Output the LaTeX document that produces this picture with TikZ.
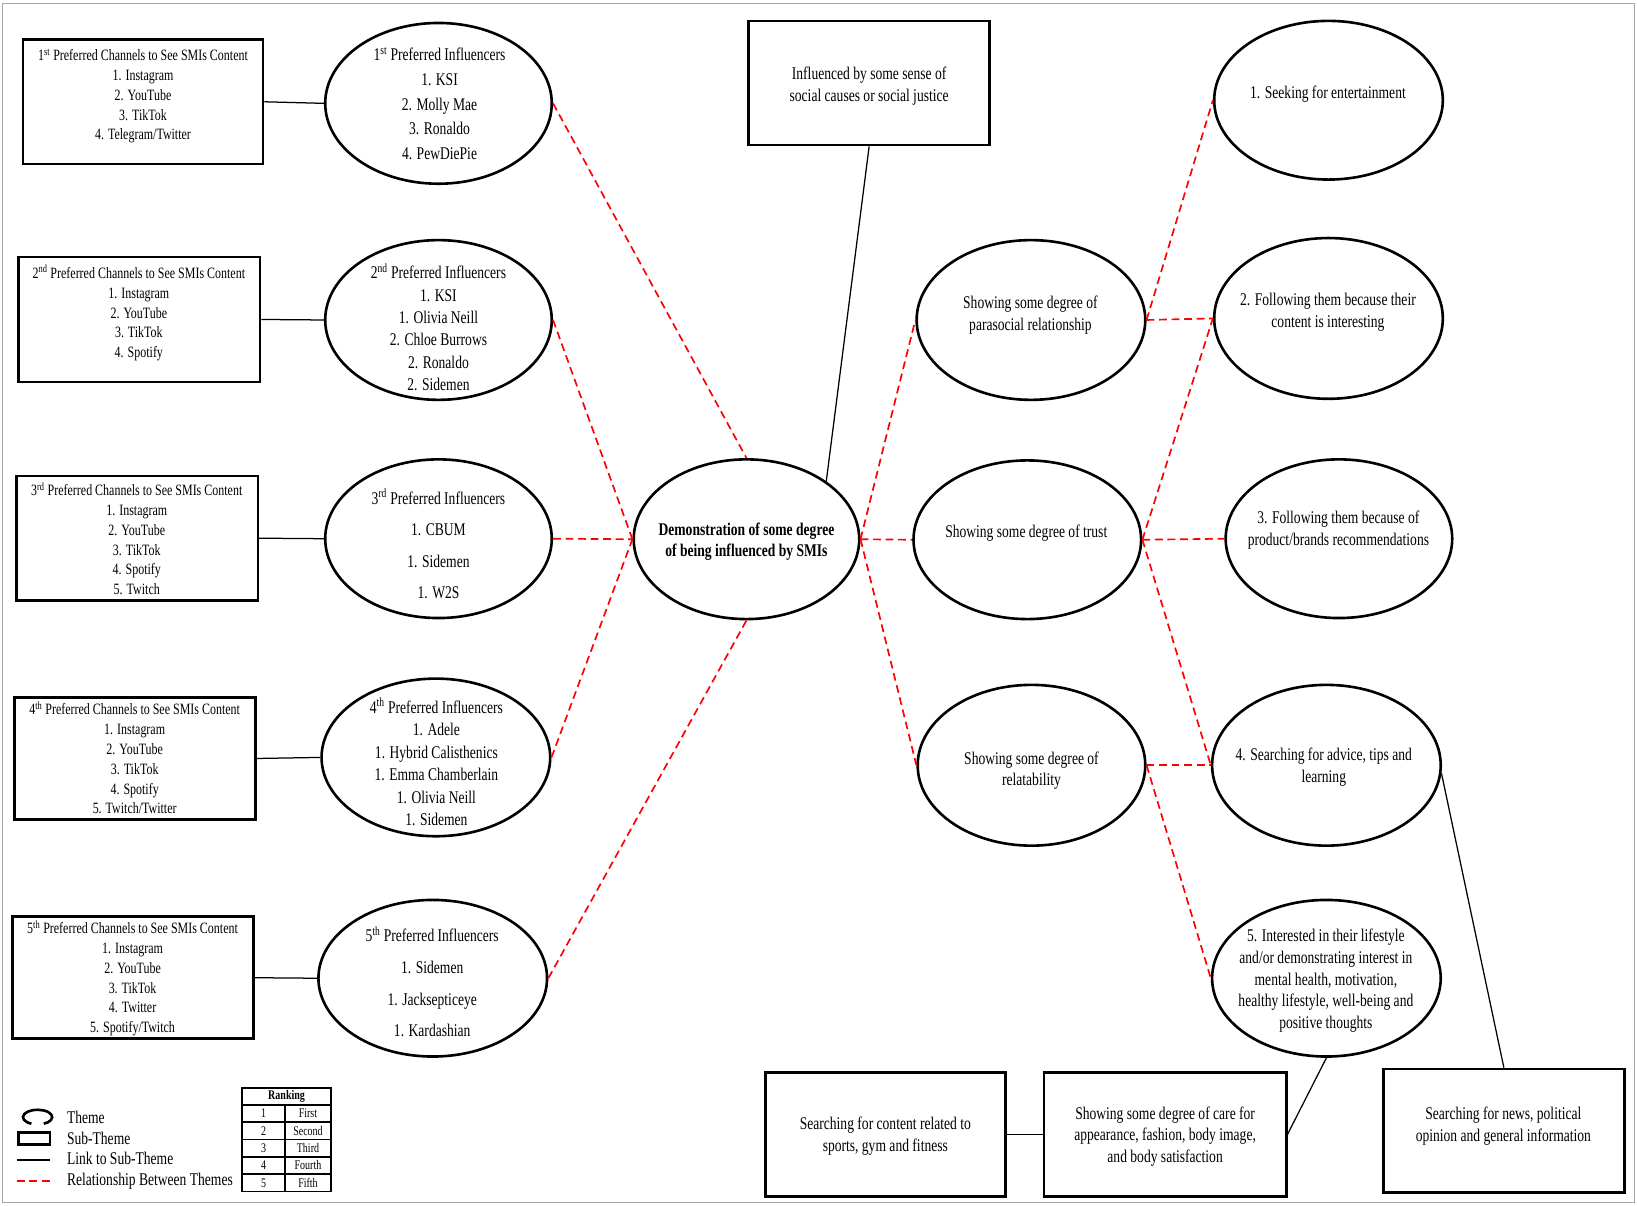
\documentclass[tikz,border=0pt]{standalone}
\usepackage{fontspec}
\setmainfont{Liberation Serif}[FakeStretch=0.76]
\usetikzlibrary{shapes.geometric}
\begin{document}
\begin{tikzpicture}[x=1pt,y=-1pt,
  theme/.style={ellipse, draw, line width=2.5pt, inner sep=0pt},
  subbox/.style={rectangle, draw, line width=2.5pt, inner sep=0pt},
  link/.style={line width=1.2pt},
  rel/.style={red, line width=1.6pt, dash pattern=on 7.5pt off 4.5pt},
  tx/.style={align=center, inner sep=0pt, font=\fontsize{17.1}{#1}\selectfont},
  tx/.default=20.7,
  btx/.style={align=center, inner sep=0pt, font=\fontsize{15.1}{19}\selectfont},
  cell/.style={rectangle, draw, line width=1.5pt, inner sep=0pt, font=\fontsize{12.6}{12.6}\selectfont},
  legtx/.style={anchor=west, inner sep=0pt, font=\fontsize{17.1}{18}\selectfont}
]
\useasboundingbox (0,0) rectangle (1568,1155);
\draw[gray!70, line width=1pt] (2,3) rectangle (1565.5,1152);

% left sub-theme boxes
\node[subbox, minimum width=230pt, minimum height=119pt] (b1) at (137,97.5) {};
\node[btx] (b1t) at (137,92) {1\textsuperscript{st} Preferred Channels to See SMIs Content\\1. Instagram\\2. YouTube\\3. TikTok\\4. Telegram/Twitter};
\node[subbox, minimum width=231pt, minimum height=120pt] (b2) at (133.5,306) {};
\node[btx] (b2t) at (133,300) {2\textsuperscript{nd} Preferred Channels to See SMIs Content\\1. Instagram\\2. YouTube\\3. TikTok\\4. Spotify};
\node[subbox, minimum width=231pt, minimum height=119pt] (b3) at (131.5,515.5) {};
\node[btx] (b3t) at (131,516) {3\textsuperscript{rd} Preferred Channels to See SMIs Content\\1. Instagram\\2. YouTube\\3. TikTok\\4. Spotify\\5. Twitch};
\node[subbox, minimum width=231pt, minimum height=117pt] (b4) at (129.5,726.5) {};
\node[btx] (b4t) at (129,726) {4\textsuperscript{th} Preferred Channels to See SMIs Content\\1. Instagram\\2. YouTube\\3. TikTok\\4. Spotify\\5. Twitch/Twitter};
\node[subbox, minimum width=231pt, minimum height=117pt] (b5) at (127.5,936.5) {};
\node[btx] (b5t) at (127,937) {5\textsuperscript{th} Preferred Channels to See SMIs Content\\1. Instagram\\2. YouTube\\3. TikTok\\4. Twitter\\5. Spotify/Twitch};

% influencer themes
\node[theme, minimum width=217pt, minimum height=154pt] (e1) at (420,99) {};
\node[tx=23.5] (e1t) at (421,99) {1\textsuperscript{st} Preferred Influencers\\1. KSI\\2. Molly Mae\\3. Ronaldo\\4. PewDiePie};
\node[theme, minimum width=217pt, minimum height=153pt] (e2) at (420,306.5) {};
\node[tx=21.4] (e2t) at (420,313.5) {2\textsuperscript{nd} Preferred Influencers\\1. KSI\\1. Olivia Neill\\2. Chloe Burrows\\2. Ronaldo\\2. Sidemen};
\node[theme, minimum width=217pt, minimum height=152pt] (e3) at (420,516) {};
\node[tx=30] (e3t) at (420,521) {3\textsuperscript{rd} Preferred Influencers\\1. CBUM\\1. Sidemen\\1. W2S};
\node[theme, minimum width=219pt, minimum height=151pt] (e4) at (417.5,725.5) {};
\node[tx=21.6] (e4t) at (418,730) {4\textsuperscript{th} Preferred Influencers\\1. Adele\\1. Hybrid Calisthenics\\1. Emma Chamberlain\\1. Olivia Neill\\1. Sidemen};
\node[theme, minimum width=219pt, minimum height=150pt] (e5) at (414.5,937) {};
\node[tx=30.3] (e5t) at (414,940.5) {5\textsuperscript{th} Preferred Influencers\\1. Sidemen\\1. Jacksepticeye\\1. Kardashian};

% central theme
\node[theme, minimum width=216pt, minimum height=153pt] (c) at (715,516.5) {};
\node[tx=20, font=\fontsize{17.1}{20}\selectfont\bfseries] (ct) at (715,519) {Demonstration of some degree\\of being influenced by SMIs};

% top box
\node[subbox, minimum width=231pt, minimum height=119pt] (t) at (832.5,79.5) {};
\node[tx=21] (tt) at (832.5,82.5) {Influenced by some sense of\\social causes or social justice};

% middle themes
\node[theme, minimum width=219pt, minimum height=153pt] (p) at (987.5,306.5) {};
\node[tx=21] (pt) at (987,301.5) {Showing some degree of\\parasocial relationship};
\node[theme, minimum width=218pt, minimum height=152pt] (tr) at (984,517) {};
\node[tx] (trt) at (983,511) {Showing some degree of trust};
\node[theme, minimum width=218pt, minimum height=154pt] (r) at (988,733) {};
\node[tx=20] (rt) at (988,738) {Showing some degree of\\relatability};

% right themes
\node[theme, minimum width=219pt, minimum height=152pt] (r1) at (1272.5,96) {};
\node[tx] (r1t) at (1272,90) {1. Seeking for entertainment};
\node[theme, minimum width=219pt, minimum height=154pt] (r2) at (1272.5,305) {};
\node[tx=21] (r2t) at (1272,299.5) {2. Following them because their\\content is interesting};
\node[theme, minimum width=217pt, minimum height=152pt] (r3) at (1282.5,516) {};
\node[tx=21] (r3t) at (1282,507.5) {3. Following them because of\\product/brands recommendations};
\node[theme, minimum width=219pt, minimum height=154pt] (r4) at (1270.5,733) {};
\node[tx=21] (r4t) at (1268,734.5) {4. Searching for advice, tips and\\learning};
\node[theme, minimum width=219pt, minimum height=150pt] (r5) at (1270.5,937) {};
\node[tx=20.7] (r5t) at (1270,939.5) {5. Interested in their lifestyle\\and/or demonstrating interest in\\mental health, motivation,\\healthy lifestyle, well-being and\\positive thoughts};

% bottom boxes
\node[subbox, minimum width=230pt, minimum height=119pt] (bb1) at (848,1086.5) {};
\node[tx=21] (bb1t) at (848,1088.5) {Searching for content related to\\sports, gym and fitness};
\node[subbox, minimum width=232pt, minimum height=119pt] (bb2) at (1116,1086.5) {};
\node[tx=20.5] (bb2t) at (1116,1088.5) {Showing some degree of care for\\appearance, fashion, body image,\\and body satisfaction};
\node[subbox, minimum width=231pt, minimum height=118pt] (bb3) at (1440.5,1083) {};
\node[tx=21] (bb3t) at (1440,1078.5) {Searching for news, political\\opinion and general information};

% links to sub-themes
\draw[link] (b1.east) -- (e1.west);
\draw[link] (b2.east) -- (e2.west);
\draw[link] (b3.east) -- (e3.west);
\draw[link] (b4.east) -- (e4.west);
\draw[link] (b5.east) -- (e5.west);
\draw[link] (t.south) -- (c.36);
\draw[link] (r5.south) -- (bb2.east);
\draw[link] (r4.-4) -- (bb3.north);
\draw[link] (bb1.east) -- (bb2.west);

% relationships between themes
\draw[rel] (e1.east) -- (c.north);
\draw[rel] (e2.east) -- (c.west);
\draw[rel] (e3.east) -- (c.west);
\draw[rel] (e4.east) -- (c.west);
\draw[rel] (e5.east) -- (c.south);
\draw[rel] (c.east) -- (p.west);
\draw[rel] (c.east) -- (tr.west);
\draw[rel] (c.east) -- (r.west);
\draw[rel] (p.east) -- (r1.west);
\draw[rel] (p.east) -- (r2.west);
\draw[rel] (tr.east) -- (r2.west);
\draw[rel] (tr.east) -- (r3.west);
\draw[rel] (tr.east) -- (r4.west);
\draw[rel] (r.east) -- (r4.west);
\draw[rel] (r.east) -- (r5.west);

% legend
\draw[line width=2.5pt] (30.08,1076.34) arc[start angle=115, end angle=425, x radius=14, y radius=7];
\draw[line width=2.5pt] (18,1085) rectangle (48,1096);
\draw[link] (16,1111) -- (48,1111);
\draw[rel] (16,1131) -- (48,1131);
\node[legtx] (lg1) at (64,1070) {Theme};
\node[legtx] (lg2) at (64,1090) {Sub-Theme};
\node[legtx] (lg3) at (64,1110) {Link to Sub-Theme};
\node[legtx] (lg4) at (64,1131) {Relationship Between Themes};

% ranking table
\node[cell, minimum width=85pt, minimum height=16pt, font=\fontsize{12.6}{12.6}\selectfont\bfseries] (rk) at (274.5,1050) {Ranking};
\node[cell, minimum width=41pt, minimum height=16.6pt] (k1) at (252.5,1066.5) {1};
\node[cell, minimum width=44pt, minimum height=16.6pt] (v1) at (295,1066.5) {First};
\node[cell, minimum width=41pt, minimum height=16.6pt] (k2) at (252.5,1083.1) {2};
\node[cell, minimum width=44pt, minimum height=16.6pt] (v2) at (295,1083.1) {Second};
\node[cell, minimum width=41pt, minimum height=16.6pt] (k3) at (252.5,1099.7) {3};
\node[cell, minimum width=44pt, minimum height=16.6pt] (v3) at (295,1099.7) {Third};
\node[cell, minimum width=41pt, minimum height=16.6pt] (k4) at (252.5,1116.3) {4};
\node[cell, minimum width=44pt, minimum height=16.6pt] (v4) at (295,1116.3) {Fourth};
\node[cell, minimum width=41pt, minimum height=16.6pt] (k5) at (252.5,1132.9) {5};
\node[cell, minimum width=44pt, minimum height=16.6pt] (v5) at (295,1132.9) {Fifth};
\end{tikzpicture}
\end{document}
